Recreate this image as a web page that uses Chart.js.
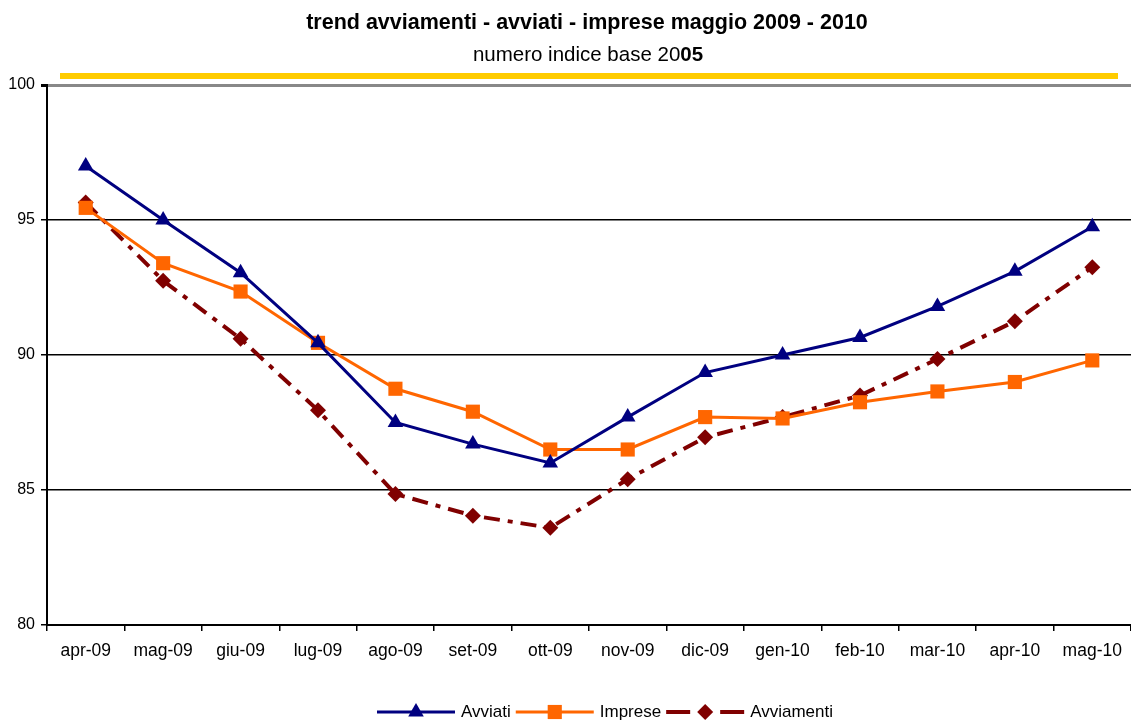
<!DOCTYPE html>
<html>
<head>
<meta charset="utf-8">
<script src="https://cdn.jsdelivr.net/npm/chart.js@4/dist/chart.umd.min.js"></script>
<style>
  html, body { margin: 0; padding: 0; background: #fff; }
  #wrap { width: 1131px; height: 720px; }
</style>
</head>
<body>
<div id="wrap"><canvas id="grafico" width="1131" height="720"></canvas></div>
<script>
// dati (numero indice base 2005)
const mesi = ['apr-09', 'mag-09', 'giu-09', 'lug-09', 'ago-09', 'set-09', 'ott-09',
              'nov-09', 'dic-09', 'gen-10', 'feb-10', 'mar-10', 'apr-10', 'mag-10'];
const avviati = [97.0, 95.0, 93.05, 90.45, 87.5, 86.7, 86.0, 87.7, 89.35, 90.0, 90.65, 91.8, 93.1, 94.75];
const imprese = [95.45, 93.4, 92.35, 90.45, 88.75, 87.9, 86.5, 86.5, 87.7, 87.65, 88.25, 88.65, 89.0, 89.8];
const avviamenti = [95.65, 92.75, 90.6, 87.95, 84.85, 84.05, 83.6, 85.4, 86.95, 87.7, 88.5, 89.85, 91.25, 93.25];
const yTicks = [80, 85, 90, 95, 100];

const titolo = 'trend avviamenti - avviati - imprese maggio 2009 - 2010';
const FONT = '"Liberation Sans", Arial, sans-serif';

function marker(ctx, style, x, y, r, color) {
    ctx.save();
    ctx.fillStyle = color;
    ctx.setLineDash([]);
    ctx.beginPath();
    if (style === 'triangle') {
        const e = r * Math.sqrt(3);
        ctx.moveTo(x, y - r);
        ctx.lineTo(x + e / 2, y + r / 2);
        ctx.lineTo(x - e / 2, y + r / 2);
    } else if (style === 'rect') {
        const s = r * Math.SQRT1_2;
        ctx.rect(x - s, y - s, 2 * s, 2 * s);
    } else {
        ctx.moveTo(x, y - r);
        ctx.lineTo(x + r, y);
        ctx.lineTo(x, y + r);
        ctx.lineTo(x - r, y);
    }
    ctx.closePath();
    ctx.fill();
    ctx.restore();
}

// titolo, sottotitolo e barra gialla
const titoloPlugin = {
    id: 'titolo',
    afterDraw(chart) {
        const ctx = chart.ctx;
        ctx.save();
        ctx.fillStyle = '#000';
        ctx.textBaseline = 'middle';
        ctx.textAlign = 'center';
        ctx.font = 'bold 21.5px ' + FONT;
        ctx.fillText(titolo, 587, 23);

        // sottotitolo con "05" in grassetto
        const a = 'numero indice base 20', b = '05';
        ctx.font = '20.5px ' + FONT;
        const wa = ctx.measureText(a).width;
        ctx.font = 'bold 20.5px ' + FONT;
        const wb = ctx.measureText(b).width;
        let x0 = 588 - (wa + wb) / 2;
        ctx.textAlign = 'left';
        ctx.font = '20.5px ' + FONT;
        ctx.fillText(a, x0, 55);
        ctx.font = 'bold 20.5px ' + FONT;
        ctx.fillText(b, x0 + wa, 55);

        ctx.fillStyle = '#FFCC00';
        ctx.fillRect(60, 73, 1058, 6);
        ctx.restore();
    }
};

// legenda in basso: linea + marcatore + testo
const legendaPlugin = {
    id: 'legenda',
    afterDraw(chart) {
        const ctx = chart.ctx;
        const y = 712, lineW = 78;
        ctx.save();
        ctx.font = '17px ' + FONT;
        ctx.textBaseline = 'middle';
        const items = chart.data.datasets.map(ds => ({ ds, tw: ctx.measureText(ds.label).width }));
        const total = items.reduce((s, it) => s + lineW + 6 + it.tw, 0) + 5 * (items.length - 1);
        let x = 605 - total / 2;
        items.forEach(it => {
            const ds = it.ds;
            ctx.strokeStyle = ds.borderColor;
            ctx.lineWidth = ds.borderWidth;
            ctx.setLineDash([]);
            ctx.beginPath();
            if (ds.borderDash) {
                ctx.moveTo(x, y); ctx.lineTo(x + 24, y);
                ctx.moveTo(x + lineW - 24, y); ctx.lineTo(x + lineW, y);
            } else {
                ctx.moveTo(x, y); ctx.lineTo(x + lineW, y);
            }
            ctx.stroke();
            marker(ctx, ds.pointStyle, x + lineW / 2, y, ds.pointRadius, ds.pointBackgroundColor);
            ctx.fillStyle = '#000';
            ctx.fillText(ds.label, x + lineW + 6, y);
            x += lineW + 6 + it.tw + 5;
        });
        ctx.restore();
    }
};

const ctx = document.getElementById('grafico').getContext('2d');
new Chart(ctx, {
    type: 'line',
    data: {
        labels: mesi,
        datasets: [{
            label: 'Avviati',
            data: avviati,
            borderColor: '#000080',
            pointBackgroundColor: '#000080',
            pointBorderColor: '#000080',
            borderWidth: 3,
            pointStyle: 'triangle',
            pointRadius: 9,
            pointBorderWidth: 0,
            tension: 0
        }, {
            label: 'Imprese',
            data: imprese,
            borderColor: '#FF6600',
            pointBackgroundColor: '#FF6600',
            pointBorderColor: '#FF6600',
            borderWidth: 3,
            pointStyle: 'rect',
            pointRadius: 10,
            pointBorderWidth: 0,
            tension: 0
        }, {
            label: 'Avviamenti',
            data: avviamenti,
            borderColor: '#800000',
            pointBackgroundColor: '#800000',
            pointBorderColor: '#800000',
            borderWidth: 4,
            borderDash: [16, 8, 5, 8],
            pointStyle: 'rectRot',
            pointRadius: 8,
            pointBorderWidth: 0,
            tension: 0
        }]
    },
    options: {
        responsive: false,
        animation: false,
        layout: { autoPadding: false, padding: { top: 85, left: 0, right: 0, bottom: 0 } },
        plugins: {
            legend: { display: false },
            tooltip: { enabled: false },
            title: { display: false }
        },
        scales: {
            x: {
                offset: true,
                grid: { offset: true, drawOnChartArea: false, drawTicks: true, tickLength: 6, color: '#000', lineWidth: 1.5 },
                border: { color: '#000', width: 2 },
                ticks: { color: '#000', font: { family: FONT, size: 17.5 }, padding: 10, maxRotation: 0, autoSkip: false },
                afterFit: s => { s.height = 95; s.paddingLeft = 0; s.paddingRight = 0; }
            },
            y: {
                min: 80,
                max: 100,
                afterBuildTicks: s => { s.ticks = yTicks.map(v => ({ value: v })); },
                grid: {
                    color: c => (c.tick && c.tick.value === 100) ? '#888888' : '#000000',
                    lineWidth: c => (c.tick && c.tick.value === 100) ? 3 : 1.5,
                    tickColor: '#000',
                    tickLength: 6
                },
                border: { color: '#000', width: 2 },
                ticks: { color: '#000', font: { family: FONT, size: 16 }, padding: 6 },
                afterFit: s => { s.width = 47; s.paddingTop = 0; s.paddingBottom = 0; }
            }
        }
    },
    plugins: [titoloPlugin, legendaPlugin]
});
</script>
</body>
</html>
